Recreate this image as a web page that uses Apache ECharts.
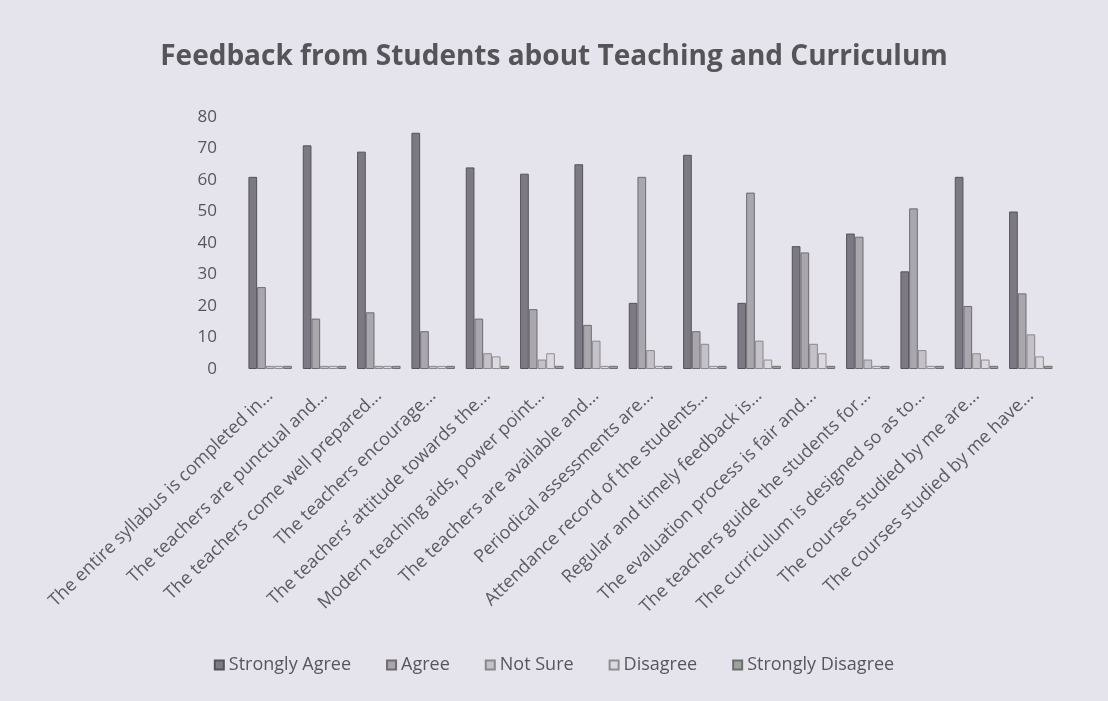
<!DOCTYPE html>
<html>
<head>
<meta charset="utf-8">
<script src="https://cdn.jsdelivr.net/npm/echarts@6/dist/echarts.min.js"></script>
<style>
html,body{margin:0;padding:0;background:#e5e3eb;}
#c{width:1108px;height:701px;}
</style>
</head>
<body>
<div id="c"></div>
<script>
const categories = [
  "The entire syllabus is completed in...",
  "The teachers are punctual and...",
  "The teachers come well prepared...",
  "The teachers encourage...",
  "The teachers\u2019 attitude towards the...",
  "Modern teaching aids, power point...",
  "The teachers are available and...",
  "Periodical assessments are...",
  "Attendance record of the students...",
  "Regular and timely feedback is...",
  "The evaluation process is fair and...",
  "The teachers guide the students for...",
  "The curriculum is designed so as to...",
  "The courses studied by me are...",
  "The courses studied by me have..."
];
const seriesNames = ["Strongly Agree", "Agree", "Not Sure", "Disagree", "Strongly Disagree"];
const stronglyAgree    = [61, 71, 69, 75, 64, 62, 65, 21, 68, 21, 39, 43, 31, 61, 50];
const agree            = [26, 16, 18, 12, 16, 19, 14, 61, 12, 56, 37, 42, 51, 20, 24];
const notSure          = [1, 1, 1, 1, 5, 3, 9, 6, 8, 9, 8, 3, 6, 5, 11];
const disagree         = [1, 1, 1, 1, 4, 5, 1, 1, 1, 3, 5, 1, 1, 3, 4];
const stronglyDisagree = [1, 1, 1, 1, 1, 1, 1, 1, 1, 1, 1, 1, 1, 1, 1];
const yTicks = [0, 10, 20, 30, 40, 50, 60, 70, 80];

const colors = ["#7d7984", "#a9a6ae", "#c4c1c9", "#dcdae0", "#9ea39e"];
const borders = ["#55525b", "#6e6b72", "#8a878e", "#8f8c93", "#6c706c"];
const values = [stronglyAgree, agree, notSure, disagree, stronglyDisagree];
const font = '"Open Sans", Lato, sans-serif';

const chart = echarts.init(document.getElementById('c'));
chart.setOption({
  backgroundColor: '#e5e3eb',
  animation: false,
  textStyle: { fontFamily: font },
  title: {
    text: 'Feedback from Students about Teaching and Curriculum',
    left: 'center', top: 38,
    textStyle: { fontSize: 28, fontWeight: 'bold', color: '#555459', fontFamily: font }
  },
  legend: {
    bottom: 22, left: 'center',
    itemWidth: 9, itemHeight: 9, itemGap: 35,
    icon: 'rect',
    textStyle: { fontSize: 18, color: '#57565c', fontFamily: font },
    data: seriesNames
  },
  grid: { left: 243, right: 50, top: 117, bottom: 332 },
  xAxis: {
    type: 'category',
    data: categories,
    axisLine: { show: false },
    axisTick: { show: false },
    axisLabel: { rotate: 44, interval: 0, fontSize: 18, color: '#5c5b61', margin: 24, fontFamily: font }
  },
  yAxis: {
    type: 'value', min: yTicks[0], max: yTicks[yTicks.length - 1], interval: 10,
    axisLine: { show: false }, axisTick: { show: false },
    splitLine: { show: false },
    axisLabel: { fontSize: 17, color: '#57565c', margin: 26, fontFamily: font }
  },
  series: seriesNames.map((n, i) => ({
    name: n, type: 'bar', data: values[i],
    barGap: '0%', barCategoryGap: '20%',
    itemStyle: { color: colors[i], borderColor: borders[i], borderWidth: 1 }
  }))
});
</script>
</body>
</html>
